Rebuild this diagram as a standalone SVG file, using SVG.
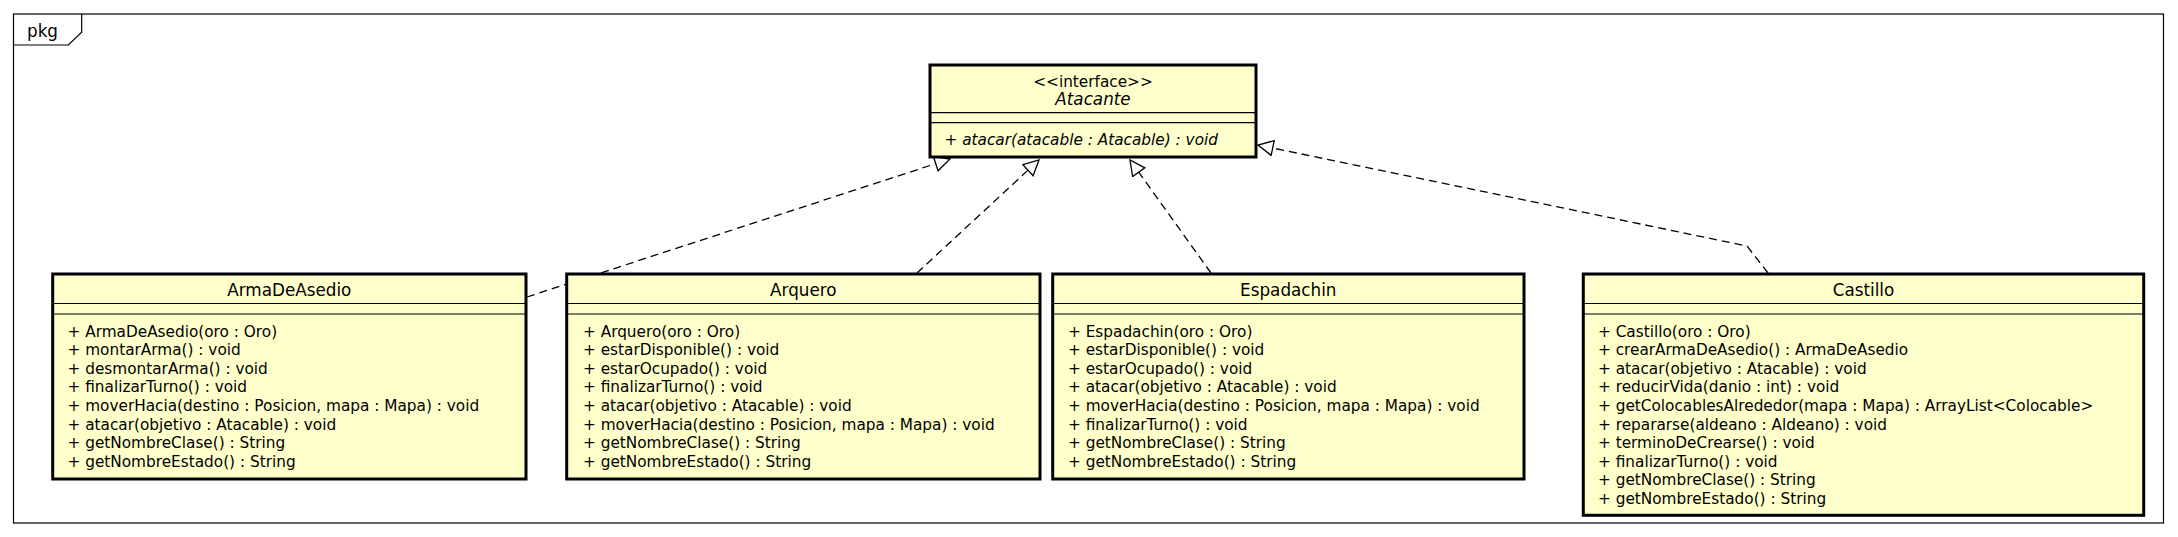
<svg xmlns="http://www.w3.org/2000/svg" width="2178" height="537" viewBox="0 0 2178 537">
<defs>
<style>
.box{fill:#FFFFCC;stroke:#000;stroke-width:3}
.sep{stroke:#000;stroke-width:1.2;fill:none}
.t{font-family:"DejaVu Sans",sans-serif;font-size:15.3px;fill:#000}
.h{font-family:"DejaVu Sans",sans-serif;font-size:16.8px;fill:#000;text-anchor:middle}
.s{font-family:"DejaVu Sans",sans-serif;font-size:15.3px;fill:#000;text-anchor:middle}
.i{font-style:italic}
.conn{fill:none;stroke:#000;stroke-width:1.3;stroke-dasharray:8,5}
.frame{fill:none;stroke:#000;stroke-width:1.2}
</style>
<marker id="tri" markerUnits="userSpaceOnUse" markerWidth="20" markerHeight="20" refX="16" refY="8" orient="auto">
<path d="M1,0.5 L16,8 L1,15.5 Z" fill="#fff" stroke="#000" stroke-width="1.3"/>
</marker>
</defs>
<rect width="2178" height="537" fill="#fff"/>
<g id="frame">
<rect class="frame" x="13.5" y="14" width="2150" height="509"/>
<path class="frame" d="M13.5,45 H68.3 L81.7,32.3 V14"/>
<text class="t" x="27" y="36.5" style="font-size:16.8px">pkg</text>
</g>
<g id="connectors">
<path class="conn" d="M527,297 L950,159" marker-end="url(#tri)"/>
<path class="conn" d="M917,273 L1039,160" marker-end="url(#tri)"/>
<path class="conn" d="M1211,273 L1130,160" marker-end="url(#tri)"/>
<path class="conn" d="M1768,273 L1747,246 L1258,145" marker-end="url(#tri)"/>
</g>
<g id="Atacante">
<rect class="box" x="930" y="65" width="326" height="92"/>
<line class="sep" x1="930" y1="112.7" x2="1256" y2="112.7"/>
<line class="sep" x1="930" y1="122.7" x2="1256" y2="122.7"/>
<text class="s" x="1093" y="87">&lt;&lt;interface&gt;&gt;</text>
<text class="h i" x="1093" y="105">Atacante</text>
<text class="t i" x="944.5" y="145">+ atacar(atacable : Atacable) : void</text>
</g>
<g id="ArmaDeAsedio">
<rect class="box" x="52.7" y="274" width="473.3" height="205"/>
<line class="sep" x1="52.7" y1="303.5" x2="526" y2="303.5"/>
<line class="sep" x1="52.7" y1="314" x2="526" y2="314"/>
<text class="h" x="289.3" y="296">ArmaDeAsedio</text>
<text class="t" x="67.5"><tspan x="67.5" y="336.5">+ ArmaDeAsedio(oro : Oro)</tspan><tspan x="67.5" dy="18.6">+ montarArma() : void</tspan><tspan x="67.5" dy="18.6">+ desmontarArma() : void</tspan><tspan x="67.5" dy="18.6">+ finalizarTurno() : void</tspan><tspan x="67.5" dy="18.6">+ moverHacia(destino : Posicion, mapa : Mapa) : void</tspan><tspan x="67.5" dy="18.6">+ atacar(objetivo : Atacable) : void</tspan><tspan x="67.5" dy="18.6">+ getNombreClase() : String</tspan><tspan x="67.5" dy="18.6">+ getNombreEstado() : String</tspan></text>
</g>
<g id="Arquero">
<rect class="box" x="566.7" y="274" width="473.3" height="205"/>
<line class="sep" x1="566.7" y1="303.5" x2="1040" y2="303.5"/>
<line class="sep" x1="566.7" y1="314" x2="1040" y2="314"/>
<text class="h" x="803.3" y="296">Arquero</text>
<text class="t" x="583"><tspan x="583" y="336.5">+ Arquero(oro : Oro)</tspan><tspan x="583" dy="18.6">+ estarDisponible() : void</tspan><tspan x="583" dy="18.6">+ estarOcupado() : void</tspan><tspan x="583" dy="18.6">+ finalizarTurno() : void</tspan><tspan x="583" dy="18.6">+ atacar(objetivo : Atacable) : void</tspan><tspan x="583" dy="18.6">+ moverHacia(destino : Posicion, mapa : Mapa) : void</tspan><tspan x="583" dy="18.6">+ getNombreClase() : String</tspan><tspan x="583" dy="18.6">+ getNombreEstado() : String</tspan></text>
</g>
<g id="Espadachin">
<rect class="box" x="1052.7" y="274" width="471.3" height="205"/>
<line class="sep" x1="1052.7" y1="303.5" x2="1524" y2="303.5"/>
<line class="sep" x1="1052.7" y1="314" x2="1524" y2="314"/>
<text class="h" x="1288.3" y="296">Espadachin</text>
<text class="t" x="1068"><tspan x="1068" y="336.5">+ Espadachin(oro : Oro)</tspan><tspan x="1068" dy="18.6">+ estarDisponible() : void</tspan><tspan x="1068" dy="18.6">+ estarOcupado() : void</tspan><tspan x="1068" dy="18.6">+ atacar(objetivo : Atacable) : void</tspan><tspan x="1068" dy="18.6">+ moverHacia(destino : Posicion, mapa : Mapa) : void</tspan><tspan x="1068" dy="18.6">+ finalizarTurno() : void</tspan><tspan x="1068" dy="18.6">+ getNombreClase() : String</tspan><tspan x="1068" dy="18.6">+ getNombreEstado() : String</tspan></text>
</g>
<g id="Castillo">
<rect class="box" x="1583.3" y="274" width="560.4" height="241.3"/>
<line class="sep" x1="1583.3" y1="303.5" x2="2143.7" y2="303.5"/>
<line class="sep" x1="1583.3" y1="314" x2="2143.7" y2="314"/>
<text class="h" x="1863.5" y="296">Castillo</text>
<text class="t" x="1598"><tspan x="1598" y="336.5">+ Castillo(oro : Oro)</tspan><tspan x="1598" dy="18.6">+ crearArmaDeAsedio() : ArmaDeAsedio</tspan><tspan x="1598" dy="18.6">+ atacar(objetivo : Atacable) : void</tspan><tspan x="1598" dy="18.6">+ reducirVida(danio : int) : void</tspan><tspan x="1598" dy="18.6">+ getColocablesAlrededor(mapa : Mapa) : ArrayList&lt;Colocable&gt;</tspan><tspan x="1598" dy="18.6">+ repararse(aldeano : Aldeano) : void</tspan><tspan x="1598" dy="18.6">+ terminoDeCrearse() : void</tspan><tspan x="1598" dy="18.6">+ finalizarTurno() : void</tspan><tspan x="1598" dy="18.6">+ getNombreClase() : String</tspan><tspan x="1598" dy="18.6">+ getNombreEstado() : String</tspan></text>
</g>
</svg>
